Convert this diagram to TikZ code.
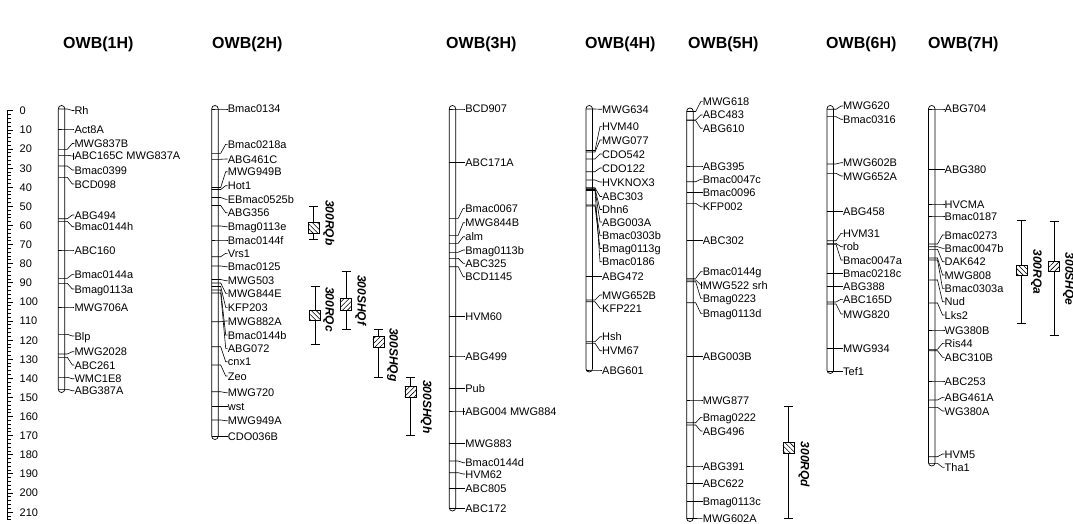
\documentclass[tikz,border=0pt]{standalone}
\usepackage{fontspec}
\setmainfont{Liberation Sans}
\usetikzlibrary{patterns.meta}
\tikzset{
  lab/.style={anchor=west, inner sep=0pt, font=\fontsize{11}{11}\selectfont, text height=8pt, text depth=0pt},
  ttl/.style={anchor=west, inner sep=0pt, font=\fontsize{16}{16}\selectfont\bfseries},
  qlab/.style={anchor=south west, inner sep=0pt, rotate=-90, font=\fontsize{12}{12}\selectfont\bfseries\itshape},
  bar/.style={line width=0.7pt, rounded corners=3.2pt},
  lnk/.style={line width=0.6pt},
}
\newcommand{\chromo}[5]{%
  \draw[bar] (#2,#3) rectangle (#2+6.5,#4);
  \foreach \mk/\ly/\tx [count=\i] in {#5} {
    \node[lab] (#1-\i) at (#2+16,\ly) {\tx};
    \draw[lnk] (#2,\mk) -- (#2+6.5,\mk) -- (#2+9,\mk) -- (#2+14,\ly) -- (#1-\i.west);
  }
}
\newcommand{\qtl}[9]{%
  \draw[lnk] (#1,#2) -- (#1,#3);
  \draw[lnk] (#1-4.5,#2) -- (#1+4.5,#2);
  \draw[lnk] (#1-4.5,#3) -- (#1+4.5,#3);
  \fill[white] (#1-5.5,#4) rectangle (#1+5.5,#5);
  \fill[pattern={Lines[angle=#6,distance=3.5pt,line width=0.6pt]}] (#1-5.5,#4) rectangle (#1+5.5,#5);
  \draw[lnk] (#1-5.5,#4) rectangle (#1+5.5,#5);
  \node[qlab] (q#9) at (#7,#8) {#9};
}
\begin{document}
\begin{tikzpicture}[x=1pt,y=-1pt]
\useasboundingbox (0,0) rectangle (1073,524);
% titles
\node[ttl] (t1) at (63,44) {OWB(1H)};
\node[ttl] (t2) at (212,44) {OWB(2H)};
\node[ttl] (t3) at (446,44) {OWB(3H)};
\node[ttl] (t4) at (585,44) {OWB(4H)};
\node[ttl] (t5) at (688,44) {OWB(5H)};
\node[ttl] (t6) at (826,44) {OWB(6H)};
\node[ttl] (t7) at (928,44) {OWB(7H)};
% ruler
\draw[lnk] (7,110.7) -- (7,519.6);
\foreach \c in {0,2,...,214} \draw[lnk] (7,{110.7+1.911*\c}) -- (10.5,{110.7+1.911*\c});
\foreach \c [count=\i] in {0,10,...,210} {
  \draw[lnk] (7,{110.7+1.911*\c}) -- (13,{110.7+1.911*\c});
  \node[lab] (s\i) at (19.5,{110.7+1.911*\c}) {\c};
}
% 1H
\chromo{c1}{58.3}{105.5}{392.5}{109/110.5/Rh, 129/129/Act8A, 149.3/143.5/MWG837B, 155.3/156/ABC165C MWG837A, 166/170/Bmac0399, 177.3/184/BCD098, 218.7/215/ABG494, 221.3/226.7/Bmac0144h, 250/250/ABC160, 278.3/274.3/Bmac0144a, 283.3/289/Bmag0113a, 307/307/MWG706A, 334.3/336/Blp, 354/351.7/MWG2028, 357.3/365/ABC261, 377.3/378.7/WMC1E8, 389.3/390.7/ABG387A}
\draw[lnk] ([xshift=-1.5pt]c1-4.west) ++(0,-3.5) -- ++(0,7);
% 2H
\chromo{c2}{211.7}{105.5}{439.5}{109/109/Bmac0134, 153.3/144.3/Bmac0218a, 159.3/159/ABG461C, 187.5/171.7/MWG949B, 189.5/185.7/Hot1, 197.5/199.3/EBmac0525b, 205.5/212.7/ABG356, 226/226.7/Bmag0113e, 240/240/Bmac0144f, 256.7/253.3/Vrs1, 266/266.7/Bmac0125, 279.5/280.7/MWG503, 283/293.3/MWG844E, 286.5/307.3/KFP203, 321.7/321/MWG882A, 290/335/Bmac0144b, 293/348.3/ABG072, 346.7/361.7/cnx1, 365/376/Zeo, 391.7/392.7/MWG720, 406.7/406.7/wst, 420/420.7/MWG949A, 436.7/436.7/CDO036B}
% 3H
\chromo{c3}{449.2}{105.5}{511}{109/109/BCD907, 162.7/162.7/ABC171A, 218.3/208.3/Bmac0067, 235.3/222.7/MWG844B, 243.3/236.7/alm, 252.3/250/Bmag0113b, 258.3/263.3/ABC325, 266.7/276.7/BCD1145, 316.7/316.7/HVM60, 356/356/ABG499, 388.3/388.3/Pub, 411/411/ABG004 MWG884, 443.3/443.3/MWG883, 461/462.7/Bmac0144d, 472.7/474/HVM62, 488.3/488.3/ABC805, 508.3/508.3/ABC172}
\draw[lnk] ([xshift=-1.5pt]c3-12.west) ++(0,-3.5) -- ++(0,7);
% 4H
\chromo{c4}{586}{105.5}{372}{109/109.3/MWG634, 150.5/126.7/HVM40, 152/140/MWG077, 159/154/CDO542, 171.7/168/CDO122, 180/182/HVKNOX3, 187.7/196.5/ABC303, 188.7/209.5/Dhn6, 189.5/222/ABG003A, 205/235.3/Bmac0303b, 206/248.5/Bmag0113g, 190.5/261.7/Bmac0186, 276.7/276.7/ABG472, 300/295/MWG652B, 301.7/308.3/KFP221, 341.7/336.7/Hsh, 343.3/350.7/HVM67, 370/370/ABG601}
% 5H
\chromo{c5}{686.7}{108}{521.5}{111.5/101.7/MWG618, 120/115/ABC483, 120.7/128.3/ABG610, 166/166/ABG395, 181.7/179.3/Bmac0047c, 192.7/192.7/Bmac0096, 203.3/206.7/KFP002, 240.7/240.7/ABC302, 278.3/271.7/Bmac0144g, 280/285/MWG522 srh, 281.7/298.3/Bmag0223, 302.7/313.3/Bmag0113d, 356.7/356.7/ABG003B, 400/400/MWG877, 422.7/417.3/Bmag0222, 425/431/ABG496, 466/466/ABG391, 483.3/483.3/ABC622, 501.7/501.7/Bmag0113c, 518.5/518.3/MWG602A}
\draw[lnk] ([xshift=-1.5pt]c5-10.west) ++(0,-3.5) -- ++(0,7);
% 6H
\chromo{c6}{827}{105.5}{373.5}{109.3/106/MWG620, 116.7/119.3/Bmac0316, 164/162.7/MWG602B, 173.3/176/MWG652A, 211.7/211.7/ABG458, 240.7/233.3/HVM31, 243.3/246.7/rob, 244.3/260/Bmac0047a, 273.3/273.3/Bmac0218c, 286.7/286.7/ABG388, 302/299.3/ABC165D, 304/314/MWG820, 348.3/348.3/MWG934, 371.7/371.7/Tef1}
% 7H
\chromo{c7}{928.5}{105.5}{466}{109/109/ABG704, 169.3/169.3/ABG380, 204/204/HVCMA, 216/216/Bmac0187, 244/235/Bmac0273, 246.7/248.3/Bmac0047b, 249.3/261.7/DAK642, 258/275/MWG808, 260/288.3/Bmac0303a, 280/301.7/Nud, 303/315/Lks2, 330/330/WG380B, 349.3/343.3/Ris44, 350.7/357.3/ABC310B, 381/381/ABC253, 400/397.3/ABG461A, 407.3/411/WG380A, 456.7/454/HVM5, 463.3/467.3/Tha1}
% QTLs
\qtl{313.5}{206.7}{239.3}{222.5}{233.5}{-45}{323}{200}{300RQb}
\qtl{315}{286.7}{344}{310}{320.7}{-45}{323}{287}{300RQc}
\qtl{346}{271.7}{329}{298}{310}{45}{355}{275}{300SHQf}
\qtl{378.3}{329.3}{377.3}{336.7}{347.7}{45}{387}{328}{300SHQg}
\qtl{410.3}{377.3}{435}{386}{397.7}{45}{420.7}{380}{300SHQh}
\qtl{788.3}{406}{518.3}{442.7}{453.3}{-45}{798.3}{441.7}{300RQd}
\qtl{1021.7}{220}{323.3}{265}{275.7}{-45}{1030.7}{249.3}{300RQa}
\qtl{1054}{221.7}{335}{261.7}{271.7}{45}{1062.7}{252.7}{300SHQe}
\end{tikzpicture}
\end{document}
